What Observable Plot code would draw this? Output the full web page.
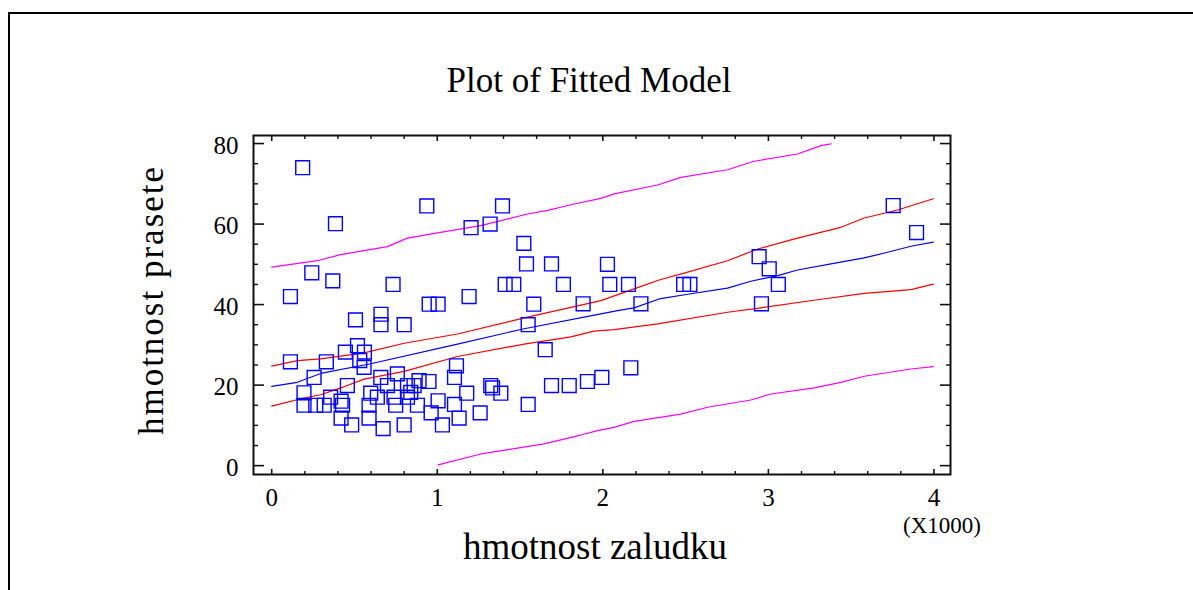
<!DOCTYPE html>
<html>
<head>
<meta charset="utf-8">
<script src="https://cdn.jsdelivr.net/npm/d3@7"></script>
<script src="https://cdn.jsdelivr.net/npm/@observablehq/plot@0.6"></script>
<style>
  html, body { margin: 0; padding: 0; background: #fff; }
  #wrap { position: relative; width: 1193px; height: 590px; overflow: hidden; font-family: "Liberation Serif", "DejaVu Serif", serif; color: #000; }
  #wrap svg { position: absolute; left: 0; top: 0; }
  .outer { position: absolute; left: 8px; top: 12px; width: 1190px; height: 600px; border-top: 2.5px solid #000; border-left: 2.5px solid #000; }
  .lbl { position: absolute; white-space: nowrap; line-height: 1; }
</style>
</head>
<body>
<div id="wrap">
  <div class="outer"></div>
</div>
<script>
// ---- data (x in thousands of units, y) ----
const pointX = [0.187,0.937,1.394,0.385,1.204,1.319,1.523,1.539,1.69,0.242,0.369,0.733,0.113,1.41,1.462,1.192,1.762,0.951,1.005,1.583,1.881,2.028,2.042,2.155,2.488,2.526,2.23,2.944,3.005,3.06,2.958,3.754,3.895,1.907,1.994,2.169,0.506,0.66,0.66,0.80,1.549,0.518,0.445,0.56,0.113,0.33,1.652,0.532,0.558,1.116,0.759,0.659,0.256,1.104,0.457,0.699,0.82,0.86,0.89,0.95,1.323,1.334,1.384,1.178,1.69,1.797,0.195,0.356,0.419,0.598,0.638,0.739,0.82,0.84,1.005,0.195,0.266,0.317,0.428,0.588,0.749,0.88,1.104,1.549,0.963,1.259,0.419,0.588,1.132,0.483,0.80,1.031,0.673];
const pointY = [74.0,64.5,64.5,60.1,59.1,60.0,55.2,50.1,50.1,47.9,45.9,45.0,42.0,45.0,45.0,42.0,45.0,40.1,40.1,40.1,40.2,50.0,45.0,45.0,45.0,45.0,40.2,51.9,48.9,45.0,40.2,64.6,57.9,20.9,21.9,24.3,36.2,37.6,35.0,35.0,35.0,29.8,28.2,28.2,25.8,25.8,28.8,26.1,24.4,24.8,22.8,21.9,21.9,21.9,19.9,19.9,19.9,19.9,21.1,20.9,19.9,19.3,18.0,18.0,19.9,19.9,18.1,17.0,16.0,18.0,17.0,17.0,17.0,18.2,16.1,15.0,15.0,15.0,15.0,15.0,15.0,15.0,15.2,15.2,13.1,13.1,11.8,11.8,11.8,10.1,10.1,10.1,9.2];

// fitted line
const fitX = [0.0,0.155,0.296,0.598,1.122,1.525,1.988,2.089,2.189,2.340,2.532,2.753,2.894,3.056,3.176,3.378,3.579,3.720,3.861,3.996];
const fitY = [19.7,20.7,22.9,25.3,30.2,34.0,37.7,38.5,39.2,41.4,42.7,44.1,45.8,47.2,48.6,50.1,51.6,53.0,54.5,55.5];
// confidence limits
const confUpX = [0.0,0.155,0.296,0.558,0.80,1.122,1.525,1.827,1.988,2.189,2.340,2.491,2.753,2.935,3.176,3.438,3.579,3.781,3.881,3.996];
const confUpY = [24.7,26.1,26.5,28.0,30.4,32.7,36.7,39.5,41.0,43.9,46.1,47.8,50.9,53.8,56.5,59.2,61.5,63.5,64.8,66.3];
const confLoX = [0.0,0.195,0.296,0.417,0.558,0.80,1.122,1.525,1.807,1.947,2.068,2.331,2.753,2.955,3.297,3.579,3.861,3.996];
const confLoY = [14.8,16.8,17.6,19.3,21.5,23.4,27.1,30.2,32.0,33.4,33.8,35.2,38.1,39.2,41.2,42.8,43.7,45.1];
// prediction limits
const predUpX = [0.0,0.276,0.417,0.699,0.82,1.001,1.263,1.545,1.666,1.807,1.988,2.068,2.331,2.471,2.753,2.914,3.176,3.317,3.378];
const predUpY = [49.3,50.9,52.4,54.4,56.5,57.8,59.6,62.5,63.4,64.8,66.4,67.5,69.7,71.6,73.5,75.6,77.4,79.5,79.9];
const predLoX = [1.005,1.263,1.645,1.867,1.968,2.068,2.189,2.471,2.633,2.894,3.015,3.277,3.438,3.579,3.861,3.996];
const predLoY = [0.2,2.9,5.4,7.6,8.7,9.5,11.0,12.8,14.5,16.3,17.8,19.3,20.7,22.2,24.0,24.6];

// ticks
const xMajorTicks = [0, 1, 2, 3, 4];
const xMinorTicks = [0.2,0.4,0.6,0.8,1.2,1.4,1.6,1.8,2.2,2.4,2.6,2.8,3.2,3.4,3.6,3.8];
const yMajorTicks = [0, 20, 40, 60, 80];
const yMinorTicks = [5,10,15,25,30,35,45,50,55,65,70,75];

const titleText = "Plot of Fitted Model";
const xLabel = "hmotnost zaludku";
const yLabel = "hmotnost prasete";
const xMultiplier = "(X1000)";

// ---- tables ----
const points = pointX.map((x, i) => ({x, y: pointY[i]}));
const toLine = (xs, ys) => xs.map((x, i) => ({x, y: ys[i]}));
const fit = toLine(fitX, fitY);
const confUp = toLine(confUpX, confUpY);
const confLo = toLine(confLoX, confLoY);
const predUp = toLine(predUpX, predUpY);
const predLo = toLine(predLoX, predLoY);

const axisCol = "#111";
const chart = Plot.plot({
  width: 1193,
  height: 590,
  marginLeft: 253,
  marginRight: 243,
  marginTop: 135,
  marginBottom: 116,
  style: {fontFamily: "'Liberation Serif', 'DejaVu Serif', serif", fontSize: "25px", background: "transparent", color: "#000"},
  x: {domain: [-0.11, 4.1]},
  y: {domain: [-2.2, 82]},
  marks: [
    // prediction limits
    Plot.line(predUp, {x: "x", y: "y", stroke: "#ff00ff", strokeWidth: 1.2}),
    Plot.line(predLo, {x: "x", y: "y", stroke: "#ff00ff", strokeWidth: 1.2}),
    // confidence limits
    Plot.line(confUp, {x: "x", y: "y", stroke: "#ff0000", strokeWidth: 1.2}),
    Plot.line(confLo, {x: "x", y: "y", stroke: "#ff0000", strokeWidth: 1.2}),
    // fitted
    Plot.line(fit, {x: "x", y: "y", stroke: "#0000ff", strokeWidth: 1.2}),
    // observations
    Plot.dot(points, {x: "x", y: "y", symbol: "square", r: 7.8, stroke: "#0000ff", strokeWidth: 1.4, fill: "none"}),
    // inward tick marks
    Plot.axisY(yMajorTicks, {anchor: "left", tickSize: -11, fill: "none", stroke: axisCol, strokeWidth: 1.6}),
    Plot.axisY(yMinorTicks, {anchor: "left", tickSize: -5, fill: "none", stroke: axisCol, strokeWidth: 1.4}),
    Plot.axisY(yMajorTicks, {anchor: "right", tickSize: -11, fill: "none", stroke: axisCol, strokeWidth: 1.6}),
    Plot.axisY(yMinorTicks, {anchor: "right", tickSize: -5, fill: "none", stroke: axisCol, strokeWidth: 1.4}),
    Plot.axisX(xMajorTicks, {anchor: "bottom", tickSize: -5, fill: "none", stroke: axisCol, strokeWidth: 1.6}),
    Plot.axisX(xMinorTicks, {anchor: "bottom", tickSize: -3, fill: "none", stroke: axisCol, strokeWidth: 1.4}),
    Plot.axisX(xMajorTicks, {anchor: "top", tickSize: -5, fill: "none", stroke: axisCol, strokeWidth: 1.6}),
    Plot.axisX(xMinorTicks, {anchor: "top", tickSize: -3, fill: "none", stroke: axisCol, strokeWidth: 1.4}),
    // tick labels
    Plot.axisY(yMajorTicks, {anchor: "left", tickSize: 0, tickPadding: 15, dy: 2, label: null, fill: "#000", tickFormat: d => String(d)}),
    Plot.axisX(xMajorTicks, {anchor: "bottom", tickSize: 0, tickPadding: 14, label: null, fill: "#000", tickFormat: d => String(d)}),
    Plot.frame({stroke: axisCol, strokeWidth: 2})
  ]
});

const wrap = document.getElementById("wrap");
wrap.appendChild(chart);

function addLabel(text, css) {
  const d = document.createElement("div");
  d.className = "lbl";
  d.textContent = text;
  Object.assign(d.style, css);
  wrap.appendChild(d);
}
addLabel(titleText, {left: "589px", top: "80px", fontSize: "35px", transform: "translate(-50%,-50%)"});
addLabel(xLabel, {left: "595px", top: "546px", fontSize: "37px", transform: "translate(-50%,-50%)"});
addLabel(xMultiplier, {left: "942px", top: "525px", fontSize: "23px", transform: "translate(-50%,-50%)"});
addLabel(yLabel, {left: "151px", top: "300px", fontSize: "35px", letterSpacing: "2px", transform: "translate(-50%,-50%) rotate(-90deg)"});
</script>
</body>
</html>
